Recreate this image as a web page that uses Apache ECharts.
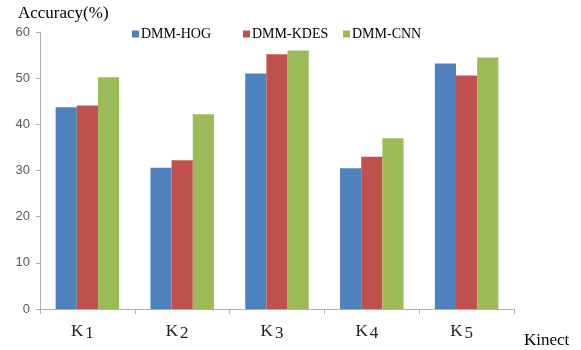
<!DOCTYPE html>
<html>
<head>
<meta charset="utf-8">
<script src="https://cdn.jsdelivr.net/npm/echarts@6/dist/echarts.min.js"></script>
<style>
  html, body { margin: 0; padding: 0; background: #fff; }
  #chart { width: 581px; height: 350px; }
</style>
</head>
<body>
<div id="chart"></div>
<script>
// Kinect sensor groups and accuracy (%) for each descriptor
const categories = ['K1', 'K2', 'K3', 'K4', 'K5'];
const seriesNames = ['DMM-HOG', 'DMM-KDES', 'DMM-CNN'];
const hogValues = [43.7, 30.6, 51.0, 30.5, 53.2];
const kdesValues = [44.1, 32.2, 55.2, 33.0, 50.6];
const cnnValues = [50.2, 42.2, 56.0, 37.0, 54.5];
const seriesColors = ['#4f81bd', '#c0504d', '#9bbb59'];
const legendLefts = [127, 238, 338];

const serif = '"Liberation Serif", "Times New Roman", serif';
const sans = '"Liberation Sans", Arial, sans-serif';

const chart = echarts.init(document.getElementById('chart'));
const valueSets = [hogValues, kdesValues, cnnValues];

chart.setOption({
  animation: false,
  backgroundColor: '#ffffff',
  grid: { left: 40, right: 67, top: 32, bottom: 41, outerBoundsMode: 'none', containLabel: false },
  legend: seriesNames.map((name, i) => ({
    data: [name],
    top: 22,
    left: legendLefts[i],
    itemWidth: 7,
    itemHeight: 7,
    icon: 'rect',
    textStyle: { fontFamily: serif, fontSize: 14, color: '#000', padding: [0, 0, 0, -3] }
  })),
  xAxis: {
    type: 'category',
    data: categories,
    name: 'Kinect',
    nameLocation: 'end',
    nameGap: 10,
    nameTextStyle: { fontFamily: serif, fontSize: 17, color: '#000', padding: [23, 0, 0, 0], align: 'left', verticalAlign: 'top' },
    axisLine: { lineStyle: { color: '#b0b0b0', width: 1 } },
    axisTick: { show: true, length: 5, lineStyle: { color: '#b0b0b0' } },
    axisLabel: {
      margin: 14,
      formatter: function (v) {
        return '{k|' + v.charAt(0) + '}{n|' + v.slice(1) + '}';
      },
      rich: {
        k: { fontFamily: serif, fontSize: 17, color: '#222', verticalAlign: 'bottom', padding: [0, 2, 2, 0] },
        n: { fontFamily: serif, fontSize: 17, color: '#222', verticalAlign: 'bottom', padding: [0, 10, 0, 0] }
      }
    }
  },
  yAxis: {
    type: 'value',
    min: 0,
    max: 60,
    interval: 10,
    name: 'Accuracy(%)',
    nameLocation: 'end',
    nameGap: 10,
    nameTextStyle: { fontFamily: serif, fontSize: 17, color: '#000', align: 'left', padding: [0, 0, 0, -22] },
    axisLine: { show: true, lineStyle: { color: '#b0b0b0', width: 1 } },
    axisTick: { show: true, length: 4, lineStyle: { color: '#b0b0b0' } },
    splitLine: { show: false },
    axisLabel: { fontFamily: sans, fontSize: 13, color: '#595959', margin: 10 }
  },
  series: seriesNames.map((name, i) => ({
    name: name,
    type: 'bar',
    data: valueSets[i],
    barGap: '0%',
    barCategoryGap: '33%',
    itemStyle: { color: seriesColors[i] }
  }))
});
</script>
</body>
</html>
